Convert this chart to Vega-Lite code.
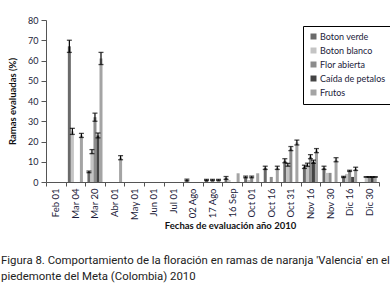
{
  "$schema": "https://vega.github.io/schema/vega-lite/v6.json",
  "width": 333,
  "height": 162,
  "autosize": {"type": "none"},
  "padding": {"left": 46, "top": 20, "right": 11, "bottom": 106},
  "background": "white",
  "config": {
    "view": {"stroke": null},
    "font": "Lato",
    "axis": {"labelColor": "#1c1c3a", "labelFont": "Lato", "labelFontSize": 9.5, "titleFont": "Lato", "titleFontSize": 9.5, "titleFontWeight": "bold", "titleColor": "#111111", "domainColor": "#555555", "tickColor": "#555555", "grid": false}
  },
  "title": {
    "text": ["Figura 8. Comportamiento de la floración en ramas de naranja 'Valencia' en el", "piedemonte del Meta (Colombia) 2010"],
    "orient": "bottom",
    "anchor": "start",
    "frame": "group",
    "dx": -45,
    "offset": 25,
    "font": "Roboto",
    "fontSize": 11.4,
    "fontWeight": "normal",
    "color": "#222222",
    "lineHeight": 16
  },
  "data": {
    "values": [
      {"fecha": "Mar 04", "serie": "Boton verde", "v": 67, "e": 3},
      {"fecha": "Mar 04", "serie": "Boton blanco", "v": 25, "e": 1.5},
      {"fecha": "Mar 04", "serie": "Frutos", "v": 23, "e": 1},
      {"fecha": "Mar 20", "serie": "Boton verde", "v": 5, "e": 0.4},
      {"fecha": "Mar 20", "serie": "Boton blanco", "v": 15, "e": 1},
      {"fecha": "Mar 20", "serie": "Flor abierta", "v": 32, "e": 2},
      {"fecha": "Mar 20", "serie": "Caída de petalos", "v": 23, "e": 1.2},
      {"fecha": "Mar 20", "serie": "Frutos", "v": 61, "e": 3},
      {"fecha": "Abr 01", "serie": "Frutos", "v": 12, "e": 1},
      {"fecha": "02 Ago", "serie": "Boton verde", "v": 1, "e": 0.4},
      {"fecha": "17 Ago", "serie": "Boton verde", "v": 1, "e": 0.3},
      {"fecha": "17 Ago", "serie": "Flor abierta", "v": 1, "e": 0.3},
      {"fecha": "17 Ago", "serie": "Frutos", "v": 1, "e": 0.3},
      {"fecha": "16 Sep", "serie": "Boton verde", "v": 2, "e": 0.7},
      {"fecha": "16 Sep", "serie": "Boton blanco", "v": 1, "e": null},
      {"fecha": "16 Sep", "serie": "Frutos", "v": 4.3, "e": null},
      {"fecha": "Oct 01", "serie": "Boton verde", "v": 2.5, "e": 0.4},
      {"fecha": "Oct 01", "serie": "Boton blanco", "v": 1, "e": null},
      {"fecha": "Oct 01", "serie": "Flor abierta", "v": 2.5, "e": 0.4},
      {"fecha": "Oct 01", "serie": "Frutos", "v": 4.3, "e": null},
      {"fecha": "Oct 16", "serie": "Boton verde", "v": 7, "e": 0.8},
      {"fecha": "Oct 16", "serie": "Flor abierta", "v": 2.5, "e": null},
      {"fecha": "Oct 16", "serie": "Frutos", "v": 7, "e": 0.8},
      {"fecha": "Oct 31", "serie": "Boton verde", "v": 10.5, "e": 1},
      {"fecha": "Oct 31", "serie": "Boton blanco", "v": 8.5, "e": 0.7},
      {"fecha": "Oct 31", "serie": "Flor abierta", "v": 16.5, "e": 1},
      {"fecha": "Oct 31", "serie": "Frutos", "v": 19.5, "e": 1.2},
      {"fecha": "Nov 16", "serie": "Boton verde", "v": 7.5, "e": 0.8},
      {"fecha": "Nov 16", "serie": "Boton blanco", "v": 8.5, "e": 0.8},
      {"fecha": "Nov 16", "serie": "Flor abierta", "v": 12.5, "e": 1},
      {"fecha": "Nov 16", "serie": "Caída de petalos", "v": 10, "e": 0.8},
      {"fecha": "Nov 16", "serie": "Frutos", "v": 15.5, "e": 1},
      {"fecha": "Nov 30", "serie": "Boton verde", "v": 7, "e": 0.8},
      {"fecha": "Nov 30", "serie": "Boton blanco", "v": 4.5, "e": null},
      {"fecha": "Nov 30", "serie": "Flor abierta", "v": 4.5, "e": null},
      {"fecha": "Nov 30", "serie": "Frutos", "v": 11, "e": 1},
      {"fecha": "Dic 16", "serie": "Boton verde", "v": 2.5, "e": 0.3},
      {"fecha": "Dic 16", "serie": "Boton blanco", "v": 4, "e": null},
      {"fecha": "Dic 16", "serie": "Flor abierta", "v": 5.5, "e": 0.3},
      {"fecha": "Dic 16", "serie": "Caída de petalos", "v": 2.5, "e": null},
      {"fecha": "Dic 16", "serie": "Frutos", "v": 6.5, "e": 0.8},
      {"fecha": "Dic 30", "serie": "Boton blanco", "v": 2.5, "e": 0.05},
      {"fecha": "Dic 30", "serie": "Flor abierta", "v": 2.5, "e": 0.05},
      {"fecha": "Dic 30", "serie": "Caída de petalos", "v": 2.5, "e": 0.05},
      {"fecha": "Dic 30", "serie": "Frutos", "v": 2.5, "e": 0.05}
    ]
  },
  "transform": [
    {"calculate": "datum.v - (datum.e || 0)", "as": "lo"},
    {"calculate": "datum.v + (datum.e || 0)", "as": "hi"}
  ],
  "resolve": {"axis": {"y": "independent"}},
  "encoding": {
    "x": {
      "field": "fecha", "type": "nominal",
      "scale": {"domain": ["Feb 01", "Mar 04", "Mar 20", "Abr 01", "May 01", "Jun 01", "Jul 01", "02 Ago", "17 Ago", "16 Sep", "Oct 01", "Oct 16", "Oct 31", "Nov 16", "Nov 30", "Dic 16", "Dic 30"], "paddingInner": 0, "paddingOuter": 0},
      "axis": {"title": "Fechas de evaluación año 2010", "labelAngle": -90, "tickBand": "extent", "tickSize": 4, "labelPadding": 2, "titleX": 184, "titleY": 38, "titleBaseline": "top"}
    },
    "xOffset": {
      "field": "serie", "type": "nominal",
      "scale": {"domain": ["Boton verde", "Boton blanco", "Flor abierta", "Caída de petalos", "Frutos"], "paddingInner": 0, "paddingOuter": 0.75}
    }
  },
  "layer": [
    {
      "mark": {"type": "bar"},
      "encoding": {
        "y": {"field": "v", "type": "quantitative", "scale": {"domain": [0, 80], "nice": false}, "axis": {"title": "Ramas evaluadas (%)", "tickCount": 8, "tickMinStep": 10, "labelOverlap": false, "labelFontSize": 9, "tickSize": 5, "labelPadding": 3, "titlePadding": 10}},
        "color": {
          "field": "serie", "type": "nominal",
          "scale": {"domain": ["Boton verde", "Boton blanco", "Flor abierta", "Caída de petalos", "Frutos"], "range": ["#6a6a6a", "#c4c4c4", "#8c8c8c", "#444444", "#a4a4a4"]},
          "legend": {"title": null, "orient": "none", "legendX": 257, "legendY": 6, "symbolType": "square", "symbolSize": 36, "symbolStrokeWidth": 0, "labelFont": "Lato", "labelFontSize": 9, "labelColor": "#1c1c3a", "rowPadding": 4, "padding": 6, "strokeColor": "#000000", "labelOffset": 2}
        }
      }
    },
    {
      "transform": [{"filter": "datum.e != null"}],
      "mark": {"type": "rule", "color": "#000000", "strokeWidth": 1.2},
      "encoding": {
        "y": {"field": "lo", "type": "quantitative", "axis": null},
        "y2": {"field": "hi"}
      }
    },
    {
      "transform": [{"filter": "datum.e != null"}],
      "mark": {"type": "tick", "orient": "horizontal", "color": "#000000", "size": 5, "thickness": 1.3},
      "encoding": {"y": {"field": "hi", "type": "quantitative", "axis": null}}
    },
    {
      "transform": [{"filter": "datum.e != null"}],
      "mark": {"type": "tick", "orient": "horizontal", "color": "#000000", "size": 5, "thickness": 1.3},
      "encoding": {"y": {"field": "lo", "type": "quantitative", "axis": null}}
    }
  ]
}
